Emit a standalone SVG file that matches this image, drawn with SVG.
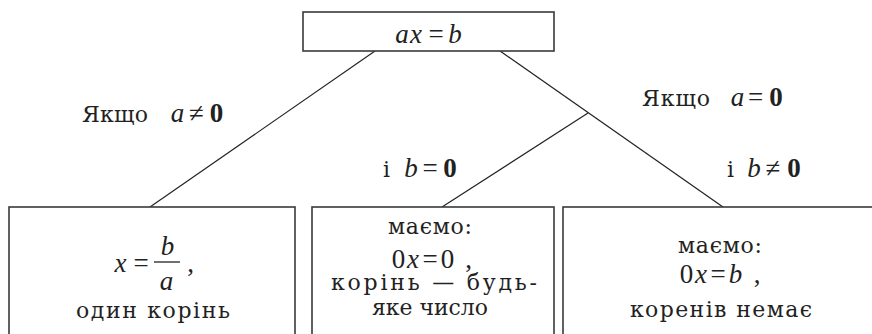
<svg xmlns="http://www.w3.org/2000/svg" width="872" height="334" viewBox="0 0 872 334">
<style>
.box{fill:#fff;stroke:#3a3a3a;stroke-width:1.6}
.ln{stroke:#222;stroke-width:1.2;fill:none}
.t{font-family:"DejaVu Serif","Liberation Serif",serif;font-size:22px;fill:#222}
.m{font-family:"Liberation Serif","DejaVu Serif",serif;font-size:27px;fill:#222;text-anchor:middle}
.i{font-style:italic}
.b{font-weight:bold}
</style>
<rect width="872" height="334" fill="#fff"/>
<g id="connectors">
<line class="ln" x1="375" y1="51" x2="150" y2="207"/>
<line class="ln" x1="500" y1="51" x2="723" y2="207"/>
<line class="ln" x1="588" y1="113" x2="442" y2="207"/>
</g>
<g id="root">
<rect class="box" x="303" y="12" width="251" height="39"/>
<text class="m" y="43"><tspan class="i" x="402">a</tspan><tspan class="i" x="416">x</tspan><tspan x="436">=</tspan><tspan class="i" x="455">b</tspan></text>
</g>
<g id="label-a-ne-0">
<text class="t" x="82" y="122" textLength="66" lengthAdjust="spacing">Якщо</text>
<text class="m" y="122"><tspan class="i" x="177.5">a</tspan><tspan x="196.5">≠</tspan><tspan class="b" x="216.5">0</tspan></text>
</g>
<g id="label-a-eq-0">
<text class="t" x="642" y="106" textLength="68" lengthAdjust="spacing">Якщо</text>
<text class="m" y="106"><tspan class="i" x="737.5">a</tspan><tspan x="755.5">=</tspan><tspan class="b" x="776">0</tspan></text>
</g>
<g id="label-b-eq-0">
<text class="t" x="383" y="177">і</text>
<text class="m" y="177"><tspan class="i" x="411">b</tspan><tspan x="430">=</tspan><tspan class="b" x="450">0</tspan></text>
</g>
<g id="label-b-ne-0">
<text class="t" x="727" y="177">і</text>
<text class="m" y="177"><tspan class="i" x="754">b</tspan><tspan x="773">≠</tspan><tspan class="b" x="794">0</tspan></text>
</g>
<g id="case1">
<rect class="box" x="9" y="207" width="286" height="140"/>
<text class="m" y="272"><tspan class="i" x="120.5">x</tspan><tspan x="141">=</tspan><tspan x="190.5">,</tspan></text>
<line x1="154" y1="262" x2="180" y2="262" stroke="#222" stroke-width="1.3"/>
<text class="m i" x="167.5" y="255">b</text>
<text class="m i" x="166.5" y="290">a</text>
<text class="t" x="76" y="318" textLength="154" lengthAdjust="spacing">один  корінь</text>
</g>
<g id="case2">
<rect class="box" x="312" y="207" width="242" height="140"/>
<text class="t" x="388" y="234" textLength="84" lengthAdjust="spacing">маємо:</text>
<text class="m" y="268"><tspan x="398.5">0</tspan><tspan class="i" x="413">x</tspan><tspan x="430">=</tspan><tspan x="447.5">0</tspan><tspan x="468.5">,</tspan></text>
<text class="t" x="331" y="290" textLength="206" lengthAdjust="spacing">корінь — будь-</text>
<text class="t" x="372" y="315" textLength="116" lengthAdjust="spacingAndGlyphs">яке  число</text>
</g>
<g id="case3">
<rect class="box" x="563" y="207" width="320" height="140"/>
<text class="t" x="678" y="253" textLength="84" lengthAdjust="spacing">маємо:</text>
<text class="m" y="283"><tspan x="686.5">0</tspan><tspan class="i" x="701">x</tspan><tspan x="718">=</tspan><tspan class="i" x="735.5">b</tspan><tspan x="757">,</tspan></text>
<text class="t" x="630" y="317" textLength="182" lengthAdjust="spacing">коренів  немає</text>
</g>
</svg>
